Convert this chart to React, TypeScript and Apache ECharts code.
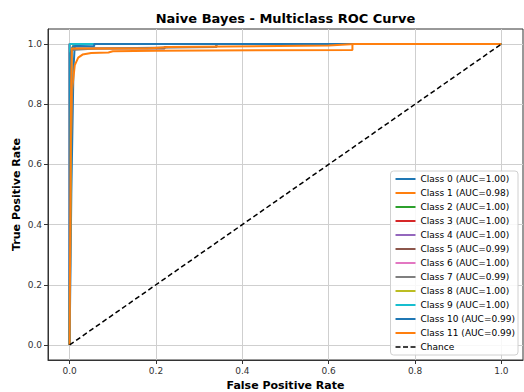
import React, { useEffect, useRef } from "react";
import * as echarts from "echarts";

const classNames = [
  "Class 0 (AUC=1.00)", "Class 1 (AUC=0.98)", "Class 2 (AUC=1.00)", "Class 3 (AUC=1.00)",
  "Class 4 (AUC=1.00)", "Class 5 (AUC=0.99)", "Class 6 (AUC=1.00)", "Class 7 (AUC=0.99)",
  "Class 8 (AUC=1.00)", "Class 9 (AUC=1.00)", "Class 10 (AUC=0.99)", "Class 11 (AUC=0.99)",
];
const classColors = [
  "#1f77b4", "#ff7f0e", "#2ca02c", "#d62728", "#9467bd", "#8c564b",
  "#e377c2", "#7f7f7f", "#bcbd22", "#17becf", "#1f77b4", "#ff7f0e",
];

const tickValues = [0, 0.2, 0.4, 0.6, 0.8, 1.0];

const class0 = [[0, 0], [0.004, 0.5], [0.009, 0.92], [0.012, 0.995], [0.05, 1.0], [1, 1]];
const class1 = [[0, 0], [0.002, 0.6], [0.006, 0.85], [0.012, 0.93], [0.02, 0.955], [0.03, 0.965], [0.05, 0.97], [0.09, 0.972], [0.1, 0.976], [0.2, 0.978], [0.655, 0.98], [0.655, 1.0], [1, 1]];
const class2 = [[0, 0], [0, 1], [1, 1]];
const class3 = [[0, 0], [0, 1], [1, 1]];
const class4 = [[0, 0], [0, 1], [1, 1]];
const class5 = [[0, 0], [0.003, 0.985], [0.22, 0.985], [0.22, 0.99], [0.34, 0.99], [0.34, 1.0], [1, 1]];
const class6 = [[0, 0], [0, 1], [1, 1]];
const class7 = [[0, 0], [0.005, 0.98], [0.06, 0.985], [0.34, 0.99], [0.34, 1.0], [1, 1]];
const class8 = [[0, 0], [0.004, 0.98], [0.01, 1.0], [1, 1]];
const class9 = [[0, 0], [0, 1], [1, 1]];
const class10 = [[0, 0], [0.002, 0.97], [0.008, 0.993], [0.057, 0.993], [0.057, 1.0], [1, 1]];
const class11 = [[0, 0], [0.003, 0.8], [0.005, 0.985], [0.18, 0.985], [0.23, 0.99], [0.6, 0.995], [0.66, 1.0], [1, 1]];
const chance = [[0, 0], [1, 1]];

const classData = [class0, class1, class2, class3, class4, class5, class6, class7, class8, class9, class10, class11];

const tickFmt = (v: number) => {
  const k = v * 5;
  return Math.abs(k - Math.round(k)) < 1e-6 ? v.toFixed(1) : "";
};

const solidIcon = "path://M0,0h20v2h-20z";
const dashedIcon = "path://M0,0h5v1.5h-5zM7.5,0h5v1.5h-5zM15,0h5v1.5h-5z";

export default function App() {
  const ref = useRef<HTMLDivElement>(null);
  useEffect(() => {
    if (!ref.current) return;
    const chart = echarts.init(ref.current, null, { renderer: "svg" });
    const font = "DejaVu Sans";
    const series: any[] = classData.map((d, i) => ({
      name: classNames[i],
      type: "line",
      data: d,
      showSymbol: false,
      symbol: "none",
      lineStyle: { color: classColors[i], width: 2 },
      itemStyle: { color: classColors[i] },
      z: 2 + i,
    }));
    series.push({
      name: "Chance",
      type: "line",
      data: chance,
      showSymbol: false,
      symbol: "none",
      lineStyle: { color: "#000", width: 1.5, type: [5, 3] },
      itemStyle: { color: "#000" },
      z: 20,
    });
    const axisCommon = {
      type: "value",
      min: -0.05,
      max: 1.05,
      splitNumber: 5,
      axisLine: { show: true, onZero: false, lineStyle: { color: "#333", width: 1 } },
      axisTick: { show: true, length: 4, lineStyle: { color: "#333" }, customValues: tickValues },
      axisLabel: { formatter: tickFmt, color: "#333", fontSize: 9, fontFamily: font, margin: 6, customValues: tickValues },
      splitLine: { show: true, lineStyle: { color: "#cfcfcf", width: 1 } },
    };
    const legendData = [
      ...classNames.map((n, i) => ({ name: n, icon: solidIcon, itemStyle: { color: classColors[i] } })),
      { name: "Chance", icon: dashedIcon, itemStyle: { color: "#000" } },
    ];
    const boldText = (text: string, size: number) => ({
      text,
      fontSize: size,
      fontWeight: "bold",
      fontFamily: font,
      fill: "#000",
      textAlign: "center",
      textVerticalAlign: "middle",
    });
    chart.setOption({
      animation: false,
      backgroundColor: "#fff",
      grid: {
        left: 48, right: 1, top: 29, bottom: 32,
        outerBoundsMode: "none",
        show: true, borderColor: "#333", borderWidth: 1, backgroundColor: "transparent",
      },
      xAxis: { ...axisCommon },
      yAxis: { ...axisCommon },
      legend: {
        orient: "vertical",
        right: 6,
        bottom: 37,
        itemWidth: 20,
        itemHeight: 10,
        itemGap: 4,
        padding: [3, 3, 3, 5],
        backgroundColor: "rgba(255,255,255,0.85)",
        borderColor: "#d0d0d0",
        borderWidth: 1,
        borderRadius: 3,
        symbolKeepAspect: true,
        textStyle: { fontSize: 9, fontFamily: font, color: "#000", lineHeight: 10 },
        data: legendData,
      },
      graphic: [
        { type: "text", x: 285.5, y: 18, style: boldText("Naive Bayes - Multiclass ROC Curve", 13) },
        { type: "text", x: 285.5, y: 385.5, style: boldText("False Positive Rate", 11) },
        { type: "text", x: 16, y: 194.5, rotation: Math.PI / 2, style: boldText("True Positive Rate", 11) },
      ],
      series,
    });
    return () => chart.dispose();
  }, []);
  return <div ref={ref} style={{ width: 524, height: 392, position: "absolute", left: 0, top: 0 }} />;
}
